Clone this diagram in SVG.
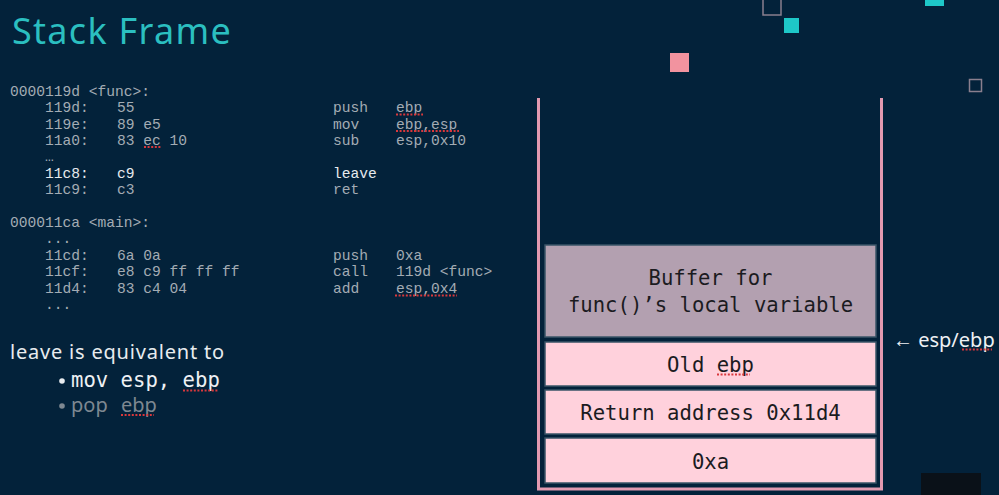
<svg xmlns="http://www.w3.org/2000/svg" width="999" height="495" viewBox="0 0 999 495">
<style>
.code{font-family:"Liberation Mono","Courier New",monospace;font-size:14.6px;fill:#a3acb4}
.hi{fill:#e6eaee}
.sans{font-family:"Noto Sans","Open Sans",sans-serif}
.mono{font-family:"DejaVu Sans Mono",monospace}
.box{stroke:#3a5467;stroke-width:1.5}
.pink{fill:#ffd1dc}
.lbl{font-family:"DejaVu Sans Mono",monospace;font-size:20.6px;fill:#1b1b1f;text-anchor:middle}
.sq{fill:none;stroke:#d9383c;stroke-width:2;stroke-dasharray:2 1.6}
</style>
<rect width="999" height="495" fill="#03223a"/>
<g id="decor">
<rect x="763" y="-2" width="18" height="17" fill="none" stroke="#8a7f8e" stroke-width="1.5"/>
<rect x="784" y="18" width="15" height="15" fill="#1ec8c8"/>
<rect x="925" y="-2" width="19" height="8" fill="#1ec8c8"/>
<rect x="670" y="53" width="19" height="19" fill="#f2939f"/>
<rect x="969.5" y="79.5" width="12" height="12" fill="none" stroke="#8a7f8e" stroke-width="1.5"/>
<rect x="921" y="473" width="60" height="22" fill="#0a1118"/>
</g>
<g id="title">
<text x="12" y="44" class="sans" font-size="36" letter-spacing="1.3" fill="#2bbfc0">Stack Frame</text>
</g>
<g id="code-func">
<text x="10" y="96" class="code">0000119d &lt;func&gt;:</text>
<text x="45" y="112" class="code">119d:</text><text x="117" y="112" class="code">55</text>
<text x="333" y="112" class="code">push</text><text x="396" y="112" class="code">ebp</text>
<text x="45" y="128.5" class="code">119e:</text><text x="117" y="128.5" class="code">89 e5</text>
<text x="333" y="128.5" class="code">mov</text><text x="396" y="128.5" class="code">ebp,esp</text>
<text x="45" y="145" class="code">11a0:</text><text x="117" y="145" class="code">83 ec 10</text>
<text x="333" y="145" class="code">sub</text><text x="396" y="145" class="code">esp,0x10</text>
<text x="45" y="161" class="code">…</text>
<text x="45" y="177.5" class="code hi">11c8:</text><text x="117" y="177.5" class="code hi">c9</text>
<text x="333" y="177.5" class="code hi">leave</text>
<text x="45" y="193.5" class="code">11c9:</text><text x="117" y="193.5" class="code">c3</text>
<text x="333" y="193.5" class="code">ret</text>
</g>
<g id="code-main">
<text x="10" y="227" class="code">000011ca &lt;main&gt;:</text>
<text x="45" y="243" class="code">...</text>
<text x="45" y="259.5" class="code">11cd:</text><text x="117" y="259.5" class="code">6a 0a</text>
<text x="333" y="259.5" class="code">push</text><text x="396" y="259.5" class="code">0xa</text>
<text x="45" y="276" class="code">11cf:</text><text x="117" y="276" class="code">e8 c9 ff ff ff</text>
<text x="333" y="276" class="code">call</text><text x="396" y="276" class="code">119d &lt;func&gt;</text>
<text x="45" y="292.5" class="code">11d4:</text><text x="117" y="292.5" class="code">83 c4 04</text>
<text x="333" y="292.5" class="code">add</text><text x="396" y="292.5" class="code">esp,0x4</text>
<text x="45" y="309" class="code">...</text>
</g>
<g id="note">
<text x="10" y="359" class="sans" font-size="20" letter-spacing="0.8" fill="#e8ecef">leave is equivalent to</text>
<circle cx="62" cy="381" r="2.8" fill="#e8ecef"/>
<text x="71" y="387" class="mono" font-size="20.6" fill="#eef1f4">mov esp, ebp</text>
<circle cx="62" cy="406" r="2.8" fill="#7e8891"/>
<text x="71" y="412" class="sans" font-size="20" fill="#7e8891">pop <tspan x="121">ebp</tspan></text>
</g>
<g id="stack">
<path d="M538.5 98 V489 H881.5 V98" fill="none" stroke="#e29ab0" stroke-width="3"/>
</g>
<g id="buffer">
<rect x="545" y="245" width="331" height="92" fill="#b3a0b0" class="box"/>
<text x="710.5" y="285" class="lbl">Buffer for</text>
<text x="710.5" y="312" class="lbl">func()’s local variable</text>
</g>
<g id="old-ebp">
<rect x="545" y="342" width="331" height="44" class="box pink"/>
<text x="710.5" y="372" class="lbl">Old ebp</text>
</g>
<g id="return-address">
<rect x="545" y="390" width="331" height="44" class="box pink"/>
<text x="710.5" y="420" class="lbl">Return address 0x11d4</text>
</g>
<g id="arg">
<rect x="545" y="438" width="331" height="45" class="box pink"/>
<text x="710.5" y="469" class="lbl">0xa</text>
</g>
<g id="esp-ebp">
<text x="893" y="347" class="sans" font-size="20" fill="#eef1f4">← esp/ebp</text>
</g>
<g id="squiggles">
<path class="sq" d="M396 114.5 H423"/>
<path class="sq" d="M396 131 H459"/>
<path class="sq" d="M144 147 H161"/>
<path class="sq" d="M395 295.5 H457"/>
<path class="sq" d="M183 390.5 H218"/>
<path class="sq" d="M121 415 H154"/>
<path class="sq" d="M717 374.5 H750"/>
<path class="sq" d="M962 349.5 H992"/>
</g>
</svg>
